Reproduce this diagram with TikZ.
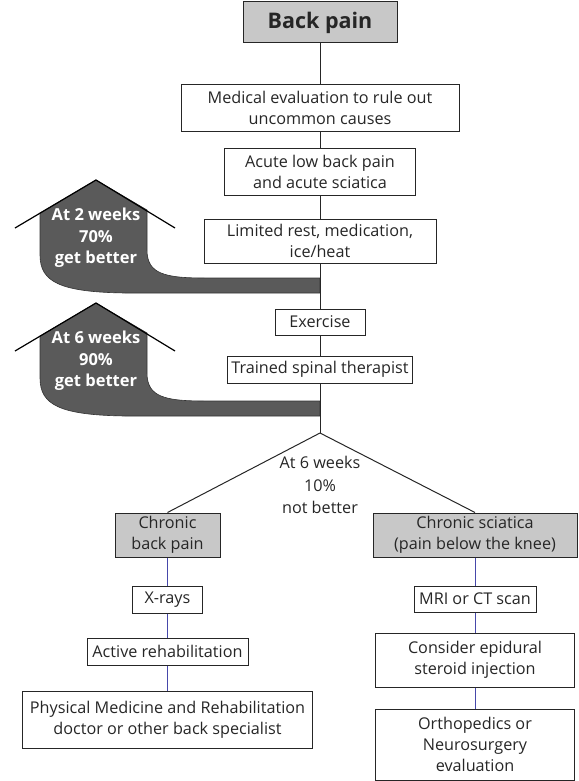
\documentclass[tikz,border=0pt]{standalone}
\usepackage{fontspec}
\setmainfont{Open Sans}
\definecolor{boxgray}{RGB}{200,200,200}
\definecolor{arrowgray}{RGB}{90,90,90}
\definecolor{linkblue}{RGB}{70,72,170}
\begin{document}
\begin{tikzpicture}[x=1pt,y=-1pt,
  box/.style={draw=black!85, line width=1pt, inner sep=0pt, align=center, font=\fontsize{16.2}{21}\selectfont, text=black!85},
  graybox/.style={box, fill=boxgray},
  conn/.style={draw=black!85, line width=1pt},
  bconn/.style={draw=linkblue, line width=1pt},
  band/.style={fill=arrowgray, draw=black!80, line width=0.6pt},
  roof/.style={draw=black, line width=1.2pt},
  atext/.style={text=white, font=\bfseries\fontsize{16.5}{21.5}\selectfont, align=center}
]
\useasboundingbox (0,0) rectangle (578,781);

% gray arrows
\foreach \dy/\nm/\wk/\pc in {0/a/2/70, 123/b/6/90}{
  \begin{scope}[yshift=-\dy pt]
    \draw[band] (40,213) -- (96,180) -- (147,210) -- (147,250)
      .. controls (147,274) and (165,278) .. (205,278) -- (320,278) -- (320,293) -- (125,293)
      .. controls (60,292) and (40,282) .. (40,255) -- cycle;
    \draw[roof] (15,228) -- (96,180) -- (175,228);
    \node[atext] (arr\nm) at (96,238) {At \wk{} weeks\\\pc\%\\get better};
  \end{scope}
}

% main column
\node[graybox, minimum width=154pt, minimum height=41pt, font=\bfseries\fontsize{21.5}{24}\selectfont] (back) at (320,22.5) {Back pain};
\node[box, minimum width=278pt, minimum height=46pt] (med) at (320,108) {Medical evaluation to rule out\\uncommon causes};
\node[box, minimum width=191pt, minimum height=47pt] (acute) at (320,171.5) {Acute low back pain\\and acute sciatica};
\node[box, minimum width=232pt, minimum height=44pt] (rest) at (320,241) {Limited rest, medication,\\ice/heat};
\node[box, minimum width=90pt, minimum height=26pt] (ex) at (320,322) {Exercise};
\node[box, minimum width=185pt, minimum height=27pt] (ther) at (320,369.5) {Trained spinal therapist};
\coordinate (br) at (320,433);

\draw[conn] (back.south) -- (med.north);
\draw[conn] (med.south) -- (acute.north);
\draw[conn] (acute.south) -- (rest.north);
\draw[conn] (rest.south) -- (ex.north);
\draw[conn] (ex.south) -- (ther.north);
\draw[conn] (ther.south) -- (br);

\node[align=center, font=\fontsize{16.2}{22.5}\selectfont, text=black!85] (nb) at (320,485) {At 6 weeks\\10\%\\not better};

% left branch
\node[graybox, minimum width=105pt, minimum height=44pt] (cbp) at (167.5,535) {Chronic\\back pain};
\node[box, minimum width=70pt, minimum height=27pt] (xr) at (167.5,599.5) {X-rays};
\node[box, minimum width=161pt, minimum height=27pt] (act) at (167.5,651.5) {Active rehabilitation};
\node[box, minimum width=290pt, minimum height=57pt] (phys) at (167.5,719.5) {Physical Medicine and Rehabilitation\\doctor or other back specialist};

% right branch
\node[graybox, minimum width=204pt, minimum height=44pt] (cs) at (475,535) {Chronic sciatica\\(pain below the knee)};
\node[box, minimum width=122pt, minimum height=26pt] (mri) at (475,599) {MRI or CT scan};
\node[box, minimum width=199pt, minimum height=54pt] (epi) at (475,660) {Consider epidural\\steroid injection};
\node[box, minimum width=199pt, minimum height=71pt] (orth) at (475,744.5) {Orthopedics or\\Neurosurgery\\evaluation};

\draw[conn] (br) -- (cbp.north);
\draw[conn] (br) -- (cs.north);
\draw[bconn] (cbp.south) -- (xr.north);
\draw[bconn] (xr.south) -- (act.north);
\draw[bconn] (act.south) -- (phys.north);
\draw[bconn] (cs.south) -- (mri.north);
\draw[bconn] (mri.south) -- (epi.north);
\draw[bconn] (epi.south) -- (orth.north);
\end{tikzpicture}
\end{document}
